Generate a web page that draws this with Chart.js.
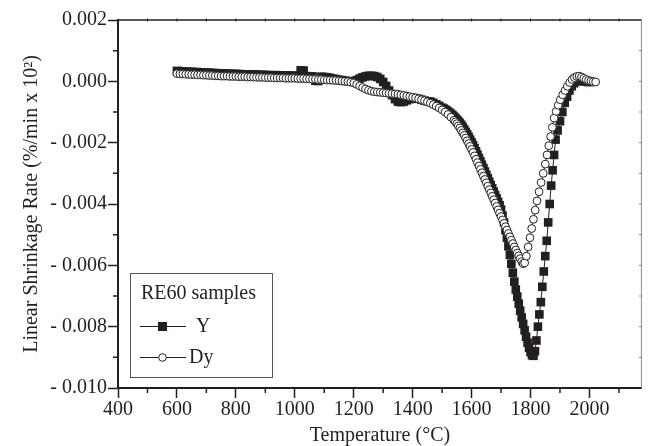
<!DOCTYPE html>
<html>
<head>
<meta charset="utf-8">
<script src="https://cdn.jsdelivr.net/npm/chart.js@4.4.0/dist/chart.umd.min.js"></script>
<style>
    html, body { margin: 0; padding: 0; background: #fff; }
    #wrap { width: 648px; height: 446px; }
</style>
</head>
<body>
<div id="wrap"><canvas id="shrink_chart" width="648" height="446"></canvas></div>
<script>
// RE60 samples, Y (filled squares)
const yTemp = [
    600, 610, 620, 630, 640, 650, 660, 670, 680, 690,
    700, 710, 720, 730, 740, 750, 760, 770, 780, 790,
    800, 810, 820, 830, 840, 850, 860, 870, 880, 890,
    900, 910, 920, 930, 940, 950, 960, 970, 980, 990,
    1000, 1010, 1020, 1030, 1040, 1050, 1060, 1070, 1080, 1090,
    1100, 1110, 1120, 1130, 1140, 1150, 1160, 1170, 1180, 1190,
    1200, 1210, 1220, 1230, 1240, 1250, 1260, 1270, 1280, 1290,
    1300, 1310, 1320, 1330, 1340, 1350, 1360, 1370, 1380, 1390,
    1400, 1410, 1420, 1430, 1440, 1450, 1460, 1470, 1480, 1490,
    1500, 1505, 1510, 1515, 1520, 1525, 1530, 1535, 1540, 1545,
    1550, 1555, 1560, 1565, 1570, 1575, 1580, 1585, 1590, 1595,
    1600, 1605, 1610, 1615, 1620, 1625, 1630, 1635, 1640, 1645,
    1650, 1655, 1660, 1665, 1670, 1675, 1680, 1685, 1690, 1695,
    1700, 1705, 1710, 1715, 1720, 1725, 1730, 1735, 1740, 1745,
    1750, 1755, 1760, 1765, 1770, 1775, 1780, 1785, 1790, 1795,
    1800, 1805, 1810, 1815, 1820, 1825, 1830, 1835, 1840, 1845,
    1850, 1855, 1860, 1865, 1870, 1875, 1880, 1885,
    1892, 1900, 1908, 1916, 1924, 1932, 1940, 1948, 1956, 1964,
    1972, 1980, 1988, 1996, 2004
];
const yRate = [
    0.00034, 0.00033, 0.00032, 0.00032, 0.00031, 0.00031, 0.00030, 0.00030, 0.00029, 0.00029,
    0.00028, 0.00028, 0.00027, 0.00027, 0.00026, 0.00026, 0.00026, 0.00025, 0.00025, 0.00024,
    0.00024, 0.00024, 0.00023, 0.00023, 0.00023, 0.00022, 0.00022, 0.00022, 0.00021, 0.00021,
    0.00021, 0.00020, 0.00020, 0.00020, 0.00020, 0.00019, 0.00019, 0.00019, 0.00019, 0.00018,
    0.00018, 0.00018, 0.00036, 0.00035, 0.00017, 0.00016, 0.00016, 0.00002, 0.00001, 0.00015,
    0.00014, 0.00013, 0.00011, 0.00009, 0.00007, 0.00005, 0.00004, 0.00002, 0.00001, 0.00000,
    0.00000, 0.00004, 0.00009, 0.00013, 0.00016, 0.00018, 0.00018, 0.00017, 0.00014, 0.00008,
    -0.00002, -0.00015, -0.00030, -0.00045, -0.00058, -0.00066, -0.00068, -0.00066, -0.00062, -0.00058,
    -0.00055, -0.00055, -0.00057, -0.00060, -0.00063, -0.00065, -0.00066, -0.00070, -0.00075, -0.00080,
    -0.00086, -0.00089, -0.00092, -0.00095, -0.00099, -0.00102, -0.00106, -0.00110, -0.00115, -0.00120,
    -0.00125, -0.00130, -0.00136, -0.00142, -0.00149, -0.00157, -0.00165, -0.00173, -0.00181, -0.00190,
    -0.00199, -0.00208, -0.00218, -0.00228, -0.00239, -0.00250, -0.00261, -0.00272, -0.00283, -0.00294,
    -0.00305, -0.00316, -0.00327, -0.00338, -0.00349, -0.00360, -0.00371, -0.00382, -0.00393, -0.00404,
    -0.00418, -0.00438, -0.00460, -0.00485, -0.00510, -0.00538, -0.00566, -0.00595, -0.00624, -0.00653,
    -0.00679, -0.00702, -0.00725, -0.00748, -0.00770, -0.00791, -0.00812, -0.00833, -0.00852, -0.00869,
    -0.00883, -0.00893, -0.00895, -0.00880, -0.00845, -0.00800, -0.00760, -0.00720, -0.00670, -0.00620,
    -0.00570, -0.00520, -0.00460, -0.00400, -0.00340, -0.00290, -0.00240, -0.00190,
    -0.00160, -0.00130, -0.00100, -0.00070, -0.00050, -0.00030, -0.00016, -0.00006, 0.00000, 0.00003,
    0.00002, 0.00000, -0.00001, -0.00002, -0.00002
];

// RE60 samples, Dy (open circles)
const dyTemp = [
    600, 610, 620, 630, 640, 650, 660, 670, 680, 690,
    700, 710, 720, 730, 740, 750, 760, 770, 780, 790,
    800, 810, 820, 830, 840, 850, 860, 870, 880, 890,
    900, 910, 920, 930, 940, 950, 960, 970, 980, 990,
    1000, 1010, 1020, 1030, 1040, 1050, 1060, 1070, 1080, 1090,
    1100, 1110, 1120, 1130, 1140, 1150, 1160, 1170, 1180, 1190,
    1200, 1210, 1220, 1230, 1240, 1250, 1260, 1270, 1280, 1290,
    1300, 1310, 1320, 1330, 1340, 1350, 1360, 1370, 1380, 1390,
    1400, 1410, 1420, 1430, 1440, 1450, 1460, 1470, 1480, 1490,
    1500, 1510, 1520, 1530,
    1540, 1545, 1550, 1555, 1560, 1565, 1570, 1575, 1580, 1585,
    1590, 1595, 1600, 1605, 1610, 1615, 1620, 1625, 1630, 1635,
    1640, 1645, 1650, 1655, 1660, 1665, 1670, 1675, 1680, 1685,
    1690, 1695, 1700, 1705, 1710, 1715, 1720, 1725, 1730, 1735,
    1740, 1745, 1750, 1755, 1760, 1765, 1770, 1775, 1780,
    1786, 1792, 1798, 1804, 1810, 1816, 1822, 1829, 1836, 1843,
    1850, 1856, 1862, 1868, 1874, 1880, 1887, 1894, 1901, 1909,
    1917, 1925, 1933, 1941, 1949, 1957, 1965, 1973, 1981, 1989,
    1997, 2005, 2013, 2021
];
const dyRate = [
    0.00025, 0.00024, 0.00024, 0.00023, 0.00023, 0.00022, 0.00022, 0.00021, 0.00021, 0.00020,
    0.00020, 0.00019, 0.00019, 0.00018, 0.00018, 0.00017, 0.00017, 0.00017, 0.00016, 0.00016,
    0.00016, 0.00015, 0.00015, 0.00015, 0.00014, 0.00014, 0.00014, 0.00013, 0.00013, 0.00013,
    0.00012, 0.00012, 0.00012, 0.00011, 0.00011, 0.00011, 0.00011, 0.00010, 0.00010, 0.00010,
    0.00010, 0.00009, 0.00009, 0.00009, 0.00008, 0.00008, 0.00007, 0.00007, 0.00006, 0.00006,
    0.00005, 0.00004, 0.00004, 0.00003, 0.00003, 0.00002, 0.00001, 0.00000, -0.00001, -0.00003,
    -0.00005, -0.00010, -0.00015, -0.00020, -0.00025, -0.00029, -0.00032, -0.00034, -0.00035, -0.00036,
    -0.00037, -0.00038, -0.00039, -0.00040, -0.00041, -0.00042, -0.00044, -0.00046, -0.00048, -0.00050,
    -0.00052, -0.00054, -0.00057, -0.00060, -0.00063, -0.00067, -0.00071, -0.00076, -0.00081, -0.00087,
    -0.00093, -0.00100, -0.00108, -0.00117,
    -0.00127, -0.00132, -0.00138, -0.00145, -0.00152, -0.00160, -0.00168, -0.00176, -0.00185, -0.00194,
    -0.00203, -0.00212, -0.00222, -0.00232, -0.00243, -0.00254, -0.00265, -0.00276, -0.00287, -0.00298,
    -0.00309, -0.00320, -0.00331, -0.00342, -0.00353, -0.00364, -0.00375, -0.00386, -0.00397, -0.00408,
    -0.00419, -0.00430, -0.00441, -0.00452, -0.00463, -0.00474, -0.00485, -0.00496, -0.00507, -0.00518,
    -0.00529, -0.00540, -0.00550, -0.00560, -0.00569, -0.00578, -0.00588, -0.00595, -0.00592,
    -0.0057, -0.0054, -0.0051, -0.0048, -0.0045, -0.0042, -0.0039, -0.0036, -0.0033, -0.0030,
    -0.0027, -0.0024, -0.0021, -0.0018, -0.0015, -0.0012, -0.00098, -0.00078, -0.00060, -0.00044,
    -0.00030, -0.00016, -0.00004, 0.00006, 0.00012, 0.00016, 0.00017, 0.00014, 0.00010, 0.00006,
    0.00003, 0.00001, -0.00001, -0.00002
];

const seriesNames = ['Y', 'Dy'];
const legendTitle = 'RE60 samples';
const xTitle = 'Temperature (°C)';
const yTitle = 'Linear Shrinkage Rate (%/min x 10²)';

// labelled ticks
const xMajorTicks = [400, 600, 800, 1000, 1200, 1400, 1600, 1800, 2000];
const yMajorTicks = [-0.010, -0.008, -0.006, -0.004, -0.002, 0, 0.002];
// unlabelled ticks
const xMinorTicks = [500, 700, 900, 1100, 1300, 1500, 1700, 1900, 2100];
const yMinorTicks = [-0.009, -0.007, -0.005, -0.003, -0.001, 0.001];
const xFrameTicks = [500, 600, 700, 800, 900, 1000, 1100, 1200, 1300, 1400, 1500, 1600, 1700, 1800, 1900, 2000, 2100];
const yFrameTicks = [-0.009, -0.008, -0.007, -0.006, -0.005, -0.004, -0.003, -0.002, -0.001, 0, 0.001];

const INK = '#231f20';
const SERIF = '"Liberation Serif", "Times New Roman", serif';

function toPoints(temps, rates) {
    return temps.map((t, i) => ({ x: t, y: rates[i] }));
}

function fmtRate(v) {
    const r = Math.round(v * 1000) / 1000;
    if (Math.abs(r) < 1e-9) return '0.000';
    return r < 0 ? '- ' + Math.abs(r).toFixed(3) : r.toFixed(3);
}

// top/right frame, minor ticks, boxed legend
const framePlugin = {
    id: 'frameAndLegend',
    afterDraw(chart) {
        const { ctx, chartArea: a, scales: { x, y } } = chart;
        ctx.save();

        ctx.strokeStyle = INK;
        ctx.lineWidth = 1.5;
        ctx.beginPath();
        ctx.moveTo(a.left, a.top);
        ctx.lineTo(a.right, a.top);
        ctx.stroke();

        ctx.strokeStyle = '#8a8a8a';
        ctx.lineWidth = 1;
        ctx.beginPath();
        ctx.moveTo(a.right - 0.5, a.top);
        ctx.lineTo(a.right - 0.5, a.bottom);
        ctx.stroke();

        // minor ticks on left and bottom axes
        ctx.strokeStyle = INK;
        ctx.lineWidth = 1.5;
        ctx.beginPath();
        xMinorTicks.forEach(t => {
            const px = x.getPixelForValue(t);
            ctx.moveTo(px, a.bottom);
            ctx.lineTo(px, a.bottom + 5);
        });
        yMinorTicks.forEach(v => {
            const py = y.getPixelForValue(v);
            ctx.moveTo(a.left, py);
            ctx.lineTo(a.left - 5, py);
        });
        ctx.stroke();

        // small ticks on top and right frame
        ctx.lineWidth = 1;
        ctx.beginPath();
        xFrameTicks.forEach(t => {
            const px = x.getPixelForValue(t);
            ctx.moveTo(px, a.top - 1.5);
            ctx.lineTo(px, a.top + 1.5);
        });
        ctx.stroke();
        ctx.strokeStyle = '#8a8a8a';
        ctx.beginPath();
        yFrameTicks.forEach(v => {
            const py = y.getPixelForValue(v);
            ctx.moveTo(a.right - 3, py);
            ctx.lineTo(a.right, py);
        });
        ctx.stroke();

        // legend box
        const lx = 130, ly = 273, lw = 142, lh = 104;
        ctx.fillStyle = '#fff';
        ctx.fillRect(lx, ly, lw, lh);
        ctx.strokeStyle = '#555';
        ctx.lineWidth = 1;
        ctx.strokeRect(lx + 0.5, ly + 0.5, lw, lh);

        ctx.fillStyle = INK;
        ctx.font = '20px ' + SERIF;
        ctx.textAlign = 'left';
        ctx.textBaseline = 'middle';
        ctx.fillText(legendTitle, 141, 294);

        const rows = [326, 357];
        rows.forEach((ry, i) => {
            ctx.strokeStyle = INK;
            ctx.lineWidth = 1;
            ctx.beginPath();
            ctx.moveTo(140, ry + 0.5);
            ctx.lineTo(186, ry + 0.5);
            ctx.stroke();
            if (i === 0) {
                ctx.fillStyle = INK;
                ctx.fillRect(158, ry - 4, 9, 9);
            } else {
                ctx.fillStyle = '#fff';
                ctx.beginPath();
                ctx.arc(162.5, ry + 0.5, 3.8, 0, Math.PI * 2);
                ctx.fill();
                ctx.stroke();
            }
            ctx.fillStyle = INK;
            ctx.fillText(seriesNames[i], i === 0 ? 196 : 189, ry + 1);
        });

        ctx.restore();
    }
};

function fnShrinkageChart() {
    const config = {
        type: 'line',
        data: {
            datasets: [{
                label: seriesNames[0],
                data: toPoints(yTemp, yRate),
                order: 2,
                borderColor: INK,
                borderWidth: 1,
                pointStyle: 'rect',
                pointRadius: 6.1,
                pointBorderWidth: 0,
                pointBackgroundColor: INK,
                pointBorderColor: INK,
                tension: 0
            }, {
                label: seriesNames[1],
                data: toPoints(dyTemp, dyRate),
                order: 1,
                borderColor: INK,
                borderWidth: 1,
                pointStyle: 'circle',
                pointRadius: 3.9,
                pointBorderWidth: 1,
                pointBackgroundColor: '#fff',
                pointBorderColor: INK,
                tension: 0
            }]
        },
        options: {
            responsive: false,
            animation: false,
            events: [],
            layout: { padding: { top: 20, right: 2, left: 0, bottom: 0 } },
            plugins: {
                legend: { display: false },
                tooltip: { enabled: false }
            },
            scales: {
                x: {
                    type: 'linear',
                    min: 400,
                    max: 2178,
                    afterBuildTicks: scale => {
                        scale.ticks = xMajorTicks.map(v => ({ value: v }));
                    },
                    afterFit: scale => { scale.height = 58; },
                    border: { display: true, color: INK, width: 2 },
                    grid: { drawOnChartArea: false, drawTicks: true, tickLength: 10, tickColor: INK, tickWidth: 1.5 },
                    ticks: {
                        padding: 0,
                        color: INK,
                        maxRotation: 0,
                        autoSkip: false,
                        font: { family: SERIF, size: 20 },
                        callback: v => String(v)
                    },
                    title: {
                        display: true,
                        text: xTitle,
                        color: INK,
                        padding: { top: 0, bottom: 0 },
                        font: { family: SERIF, size: 20, lineHeight: 1 }
                    }
                },
                y: {
                    type: 'linear',
                    min: -0.010,
                    max: 0.002,
                    afterBuildTicks: scale => {
                        scale.ticks = yMajorTicks.map(v => ({ value: v }));
                    },
                    afterFit: scale => { scale.width = 118; },
                    border: { display: true, color: INK, width: 2 },
                    grid: { drawOnChartArea: false, drawTicks: true, tickLength: 10, tickColor: INK, tickWidth: 1.5 },
                    ticks: {
                        padding: 1,
                        color: INK,
                        autoSkip: false,
                        font: { family: SERIF, size: 20 },
                        callback: v => fmtRate(v)
                    },
                    title: {
                        display: true,
                        text: yTitle,
                        color: INK,
                        padding: { top: 22, bottom: 0 },
                        font: { family: SERIF, size: 20, lineHeight: 1 }
                    }
                }
            }
        },
        plugins: [framePlugin]
    };

    return new Chart(document.getElementById('shrink_chart'), config);
}

fnShrinkageChart();
</script>
</body>
</html>
